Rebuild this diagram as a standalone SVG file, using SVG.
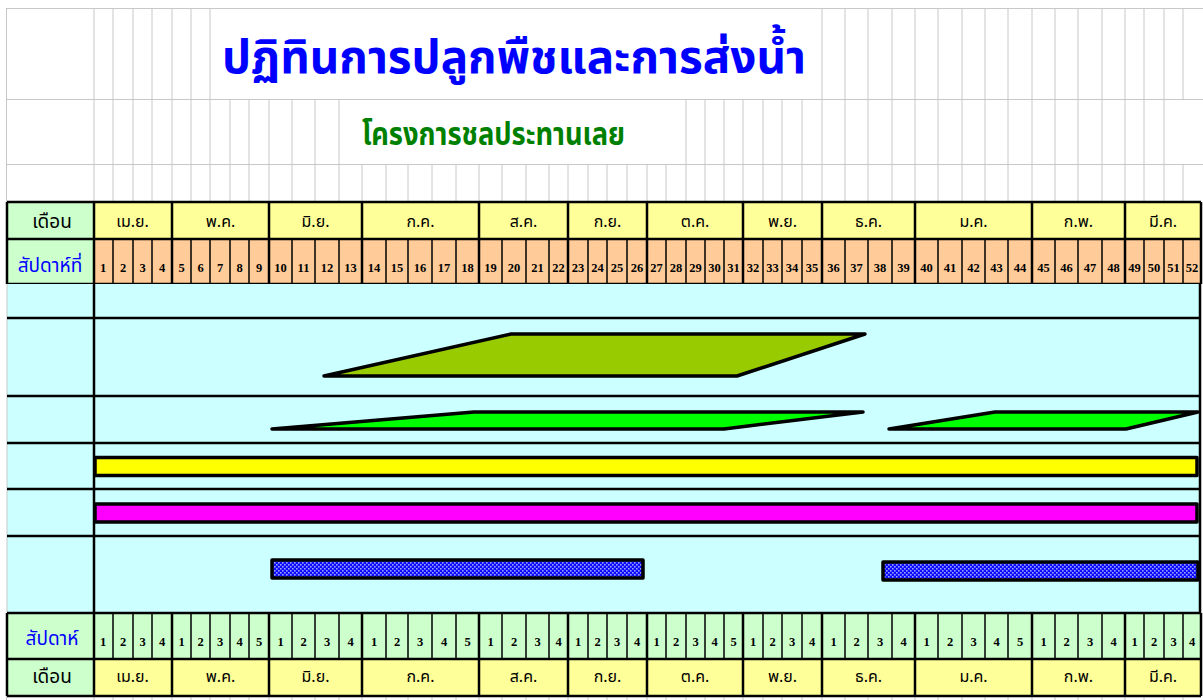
<svg xmlns="http://www.w3.org/2000/svg" width="1203" height="700" viewBox="0 0 1203 700">
<style>
.grid{stroke:#C8C8C8;stroke-width:1;fill:none}
.blk{stroke:#000;stroke-width:1.5;fill:none}
.thk{stroke:#000;stroke-width:2.5;fill:none}
.th{font-family:"Noto Sans Thai","Noto Serif Thai","Loma","Garuda","Norasi","Tlwg Typo","Noto Sans","DejaVu Sans",sans-serif}
.mon{font-size:16px;fill:#000;text-anchor:middle}
.wk{font-family:"Liberation Serif",serif;font-weight:bold;font-size:12.5px;fill:#000;text-anchor:middle}
.lbl{font-size:19px;text-anchor:middle}
.bar{stroke:#000;stroke-width:3.5;stroke-linejoin:round}
</style>
<defs>
<pattern id="dots" width="4" height="4" patternUnits="userSpaceOnUse">
<rect width="4" height="4" fill="#0A0AFF"/>
<rect x="0" y="0" width="1.6" height="1.6" fill="#A0A0FF"/>
<rect x="2" y="2" width="1.6" height="1.6" fill="#A0A0FF"/>
</pattern>
</defs>
<rect width="1203" height="700" fill="#FFFFFF"/>

<g id="top-grid">
<line class="grid" x1="6" y1="8.5" x2="1203" y2="8.5"/>
<line class="grid" x1="6.5" y1="8" x2="6.5" y2="202"/>
<line class="grid" x1="6" y1="99.5" x2="1203" y2="99.5"/>
<line class="grid" x1="6" y1="164.5" x2="1203" y2="164.5"/>
<path class="grid" d="M94 8V99M113 8V99M133 8V99M152 8V99M172 8V99M191 8V99M210 8V99M822 8V99M845 8V99M868 8V99M892 8V99M915 8V99M938 8V99M962 8V99M985 8V99M1008 8V99M1032 8V99M1055 8V99M1078 8V99M1102 8V99M1125 8V99M1144 8V99M1164 8V99M1183 8V99"/>
<path class="grid" d="M94 99V164M113 99V164M133 99V164M152 99V164M172 99V164M191 99V164M210 99V164M230 99V164M249 99V164M269 99V164M292 99V164M315 99V164M339 99V164M686 99V164M705 99V164M724 99V164M743 99V164M763 99V164M782 99V164M802 99V164M822 99V164M845 99V164M868 99V164M892 99V164M915 99V164M938 99V164M962 99V164M985 99V164M1008 99V164M1032 99V164M1055 99V164M1078 99V164M1102 99V164M1125 99V164M1144 99V164M1164 99V164"/>
<path class="grid" d="M94 164V202M113 164V202M133 164V202M152 164V202M172 164V202M191 164V202M210 164V202M230 164V202M249 164V202M269 164V202M292 164V202M315 164V202M339 164V202M362 164V202M386 164V202M408 164V202M432 164V202M456 164V202M479 164V202M502 164V202M526 164V202M549 164V202M568 164V202M588 164V202M607 164V202M627 164V202M647 164V202M666 164V202M686 164V202M705 164V202M724 164V202M743 164V202M763 164V202M782 164V202M802 164V202M822 164V202M845 164V202M868 164V202M892 164V202M915 164V202M938 164V202M962 164V202M985 164V202M1008 164V202M1032 164V202M1055 164V202M1078 164V202M1102 164V202M1125 164V202M1144 164V202M1164 164V202M1183 164V202"/>
<path class="grid" d="M94 696V700M113 696V700M133 696V700M152 696V700M172 696V700M191 696V700M210 696V700M230 696V700M249 696V700M269 696V700M292 696V700M315 696V700M339 696V700M362 696V700M386 696V700M408 696V700M432 696V700M456 696V700M479 696V700M502 696V700M526 696V700M549 696V700M568 696V700M588 696V700M607 696V700M627 696V700M647 696V700M666 696V700M686 696V700M705 696V700M724 696V700M743 696V700M763 696V700M782 696V700M802 696V700M822 696V700M845 696V700M868 696V700M892 696V700M915 696V700M938 696V700M962 696V700M985 696V700M1008 696V700M1032 696V700M1055 696V700M1078 696V700M1102 696V700M1125 696V700M1144 696V700M1164 696V700M1183 696V700M6.5 696V700"/>
</g>

<g id="title">
<text class="th" x="222" y="73" font-size="47" font-weight="bold" fill="#0000FF" textLength="584" lengthAdjust="spacingAndGlyphs">ปฏิทินการปลูกพืชและการส่งน้ำ</text>
<text class="th" x="362" y="145" font-size="31" font-weight="bold" fill="#008000" textLength="263" lengthAdjust="spacingAndGlyphs">โครงการชลประทานเลย</text>
</g>

<g id="header-top">
<rect x="7" y="202" width="87" height="82" fill="#CCFFCC"/>
<rect x="94" y="202" width="1107" height="37" fill="#FFFF99"/>
<rect x="94" y="239" width="1107" height="45" fill="#FFCC99"/>
<text class="th lbl" x="52" y="228" fill="#000">เดือน</text>
<text class="th lbl" x="50" y="272" fill="#0000FF">สัปดาห์ที่</text>
<g class="th mon">
<text x="132.5" y="227">เม.ย.</text><text x="220.5" y="227">พ.ค.</text><text x="315.5" y="227">มิ.ย.</text><text x="420.5" y="227">ก.ค.</text><text x="523.5" y="227">ส.ค.</text><text x="607.5" y="227">ก.ย.</text><text x="695" y="227">ต.ค.</text><text x="782.5" y="227">พ.ย.</text><text x="868.5" y="227">ธ.ค.</text><text x="973.5" y="227">ม.ค.</text><text x="1078.5" y="227">ก.พ.</text><text x="1163" y="227">มี.ค.</text>
</g>
<g class="wk">
<text x="103" y="272">1</text><text x="123" y="272">2</text><text x="142.5" y="272">3</text><text x="162" y="272">4</text><text x="181.5" y="272">5</text><text x="200.5" y="272">6</text><text x="220" y="272">7</text><text x="239.5" y="272">8</text><text x="259" y="272">9</text><text x="280.5" y="272">10</text><text x="303.5" y="272">11</text><text x="327" y="272">12</text><text x="350.5" y="272">13</text><text x="374" y="272">14</text><text x="397" y="272">15</text><text x="420" y="272">16</text><text x="444" y="272">17</text><text x="467.5" y="272">18</text><text x="490.5" y="272">19</text><text x="514" y="272">20</text><text x="537.5" y="272">21</text><text x="558.5" y="272">22</text><text x="578" y="272">23</text><text x="597.5" y="272">24</text><text x="617" y="272">25</text><text x="637" y="272">26</text><text x="656.5" y="272">27</text><text x="676" y="272">28</text><text x="695.5" y="272">29</text><text x="714.5" y="272">30</text><text x="733.5" y="272">31</text><text x="753" y="272">32</text><text x="772.5" y="272">33</text><text x="792" y="272">34</text><text x="812" y="272">35</text><text x="833.5" y="272">36</text><text x="856.5" y="272">37</text><text x="880" y="272">38</text><text x="903.5" y="272">39</text><text x="926.5" y="272">40</text><text x="950" y="272">41</text><text x="973.5" y="272">42</text><text x="996.5" y="272">43</text><text x="1020" y="272">44</text><text x="1043.5" y="272">45</text><text x="1066.5" y="272">46</text><text x="1090" y="272">47</text><text x="1113.5" y="272">48</text><text x="1134.5" y="272">49</text><text x="1154" y="272">50</text><text x="1173.5" y="272">51</text><text x="1192" y="272">52</text>
</g>
<path class="blk" d="M113 239V284M133 239V284M152 239V284M191 239V284M210 239V284M230 239V284M249 239V284M292 239V284M315 239V284M339 239V284M386 239V284M408 239V284M432 239V284M456 239V284M502 239V284M526 239V284M549 239V284M588 239V284M607 239V284M627 239V284M666 239V284M686 239V284M705 239V284M724 239V284M763 239V284M782 239V284M802 239V284M845 239V284M868 239V284M892 239V284M938 239V284M962 239V284M985 239V284M1008 239V284M1055 239V284M1078 239V284M1102 239V284M1144 239V284M1164 239V284M1183 239V284"/>
<path class="thk" d="M7 202H1201M7 239H1201M7 284H1201M7 202V284M94 202V284M172 202V284M269 202V284M362 202V284M479 202V284M568 202V284M647 202V284M743 202V284M822 202V284M915 202V284M1032 202V284M1125 202V284M1201 202V284"/>
</g>

<g id="chart-area">
<rect x="7" y="284" width="1194" height="329" fill="#CCFFFF"/>
<line class="grid" x1="7" y1="284" x2="7" y2="613"/>
<path class="thk" d="M7 318H1201M7 396H1201M7 443H1201M7 489H1201M7 536H1201M94 284V613M1200 284V613"/>
</g>

<g id="bars">
<polygon id="rice-1" class="bar" fill="#99CC00" points="324,376 511,334 865,334 737,376"/>
<polygon id="crop-2a" class="bar" fill="#00FF00" points="272,429 474,412 863,412 724,429"/>
<polygon id="crop-2b" class="bar" fill="#00FF00" points="889,429 995,412 1198,412 1126,429"/>
<rect id="bar-yellow" class="bar" fill="#FFFF00" x="95" y="457.5" width="1102" height="18"/>
<rect id="bar-magenta" class="bar" fill="#FF00FF" x="95" y="504" width="1102" height="18"/>
<rect id="bar-blue-1" class="bar" fill="url(#dots)" x="272" y="560" width="371" height="18"/>
<rect id="bar-blue-2" class="bar" fill="url(#dots)" x="883" y="562" width="315" height="18"/>
</g>

<g id="footer">
<rect x="7" y="613" width="1194" height="46" fill="#CCFFCC"/>
<rect x="7" y="659" width="87" height="37" fill="#CCFFCC"/>
<rect x="94" y="659" width="1107" height="37" fill="#FFFF99"/>
<text class="th lbl" x="52" y="645" fill="#0000FF">สัปดาห์</text>
<text class="th lbl" x="52" y="683" fill="#000">เดือน</text>
<g class="th mon">
<text x="132.5" y="682">เม.ย.</text><text x="220.5" y="682">พ.ค.</text><text x="315.5" y="682">มิ.ย.</text><text x="420.5" y="682">ก.ค.</text><text x="523.5" y="682">ส.ค.</text><text x="607.5" y="682">ก.ย.</text><text x="695" y="682">ต.ค.</text><text x="782.5" y="682">พ.ย.</text><text x="868.5" y="682">ธ.ค.</text><text x="973.5" y="682">ม.ค.</text><text x="1078.5" y="682">ก.พ.</text><text x="1163" y="682">มี.ค.</text>
</g>
<g class="wk">
<text x="103" y="646">1</text><text x="123" y="646">2</text><text x="142.5" y="646">3</text><text x="162" y="646">4</text>
<text x="181.5" y="646">1</text><text x="200.5" y="646">2</text><text x="220" y="646">3</text><text x="239.5" y="646">4</text><text x="259" y="646">5</text>
<text x="280.5" y="646">1</text><text x="303.5" y="646">2</text><text x="327" y="646">3</text><text x="350.5" y="646">4</text>
<text x="374" y="646">1</text><text x="397" y="646">2</text><text x="420" y="646">3</text><text x="444" y="646">4</text><text x="467.5" y="646">5</text>
<text x="490.5" y="646">1</text><text x="514" y="646">2</text><text x="537.5" y="646">3</text><text x="558.5" y="646">4</text>
<text x="578" y="646">1</text><text x="597.5" y="646">2</text><text x="617" y="646">3</text><text x="637" y="646">4</text>
<text x="656.5" y="646">1</text><text x="676" y="646">2</text><text x="695.5" y="646">3</text><text x="714.5" y="646">4</text><text x="733.5" y="646">5</text>
<text x="753" y="646">1</text><text x="772.5" y="646">2</text><text x="792" y="646">3</text><text x="812" y="646">4</text>
<text x="833.5" y="646">1</text><text x="856.5" y="646">2</text><text x="880" y="646">3</text><text x="903.5" y="646">4</text>
<text x="926.5" y="646">1</text><text x="950" y="646">2</text><text x="973.5" y="646">3</text><text x="996.5" y="646">4</text><text x="1020" y="646">5</text>
<text x="1043.5" y="646">1</text><text x="1066.5" y="646">2</text><text x="1090" y="646">3</text><text x="1113.5" y="646">4</text>
<text x="1134.5" y="646">1</text><text x="1154" y="646">2</text><text x="1173.5" y="646">3</text><text x="1192" y="646">4</text>
</g>
<path class="blk" d="M113 613V659M133 613V659M152 613V659M191 613V659M210 613V659M230 613V659M249 613V659M292 613V659M315 613V659M339 613V659M386 613V659M408 613V659M432 613V659M456 613V659M502 613V659M526 613V659M549 613V659M588 613V659M607 613V659M627 613V659M666 613V659M686 613V659M705 613V659M724 613V659M763 613V659M782 613V659M802 613V659M845 613V659M868 613V659M892 613V659M938 613V659M962 613V659M985 613V659M1008 613V659M1055 613V659M1078 613V659M1102 613V659M1144 613V659M1164 613V659M1183 613V659"/>
<path class="thk" d="M7 613H1201M7 659H1201M7 696H1201M7 613V696M94 613V696M172 613V696M269 613V696M362 613V696M479 613V696M568 613V696M647 613V696M743 613V696M822 613V696M915 613V696M1032 613V696M1125 613V696M1201 613V696"/>
</g>
</svg>
